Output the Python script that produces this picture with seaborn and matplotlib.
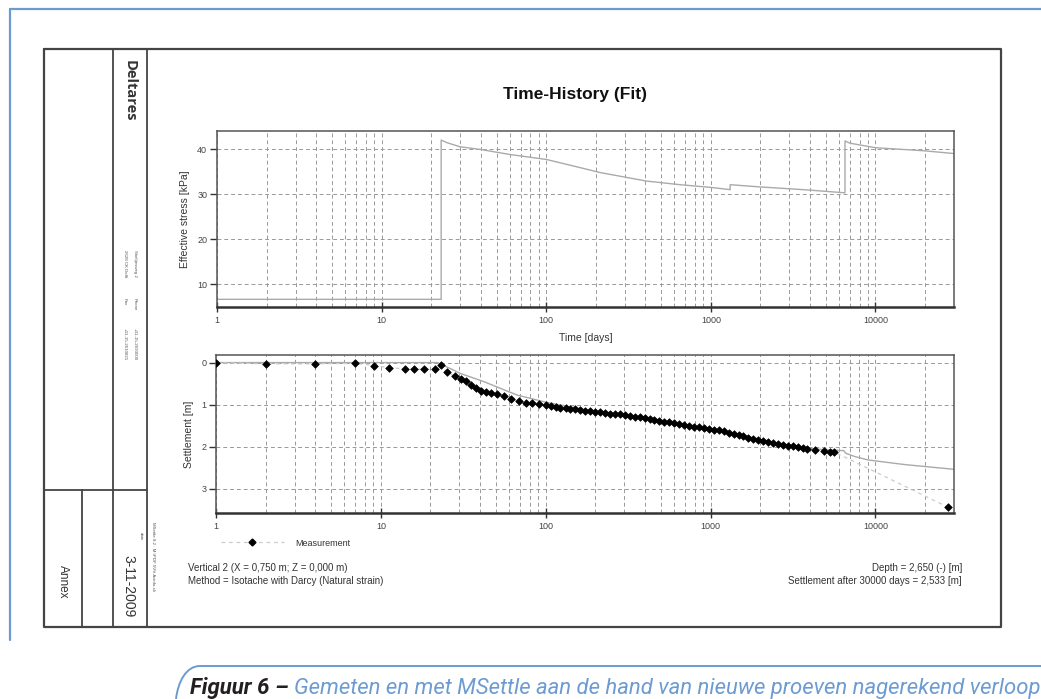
import matplotlib
matplotlib.use('agg')
import matplotlib.pyplot as plt
from matplotlib.lines import Line2D
from matplotlib.path import Path
from matplotlib.patches import PathPatch
from matplotlib.ticker import FixedLocator, FixedFormatter, LogLocator, NullFormatter
import pandas as pd
import seaborn as sns

sns.set_theme(style='white')
plt.rcParams['font.family'] = ['Liberation Sans', 'DejaVu Sans']

W, H = 1041, 699

# --- data ---
time_ticks = [1, 10, 100, 1000, 10000]
time_tick_labels = ['1', '10', '100', '1000', '10000']
stress_ticks = [10, 20, 30, 40]
settl_ticks = [0, 1, 2, 3]

# effective stress (fit), vertical jumps are repeated times
stress_time = [1, 23, 23, 25, 30, 40, 60, 100, 160, 212, 407, 650, 1000, 1310, 1310,
               2000, 3000, 4000, 6530, 6530, 7000, 10000, 20000, 30000]
stress_kpa = [6.7, 6.7, 42.0, 41.4, 40.5, 39.9, 38.8, 37.7, 35.9, 34.8, 32.9, 32.1, 31.5, 31.0, 32.1,
              31.6, 31.2, 30.9, 30.3, 41.8, 41.3, 40.3, 39.6, 39.0]

# settlement (fit)
fit_time = [1, 22, 23, 25, 27, 30, 42, 67, 100, 164, 260, 414, 659, 1000, 1323, 1670, 2010,
            2655, 3855, 5000, 6430, 6600, 7500, 9000, 15000, 30000]
fit_settl = [0, 0, 0.03, 0.1, 0.16, 0.25, 0.45, 0.77, 0.94, 1.1, 1.2, 1.31, 1.45, 1.56, 1.65,
             1.75, 1.83, 1.93, 2.03, 2.07, 2.09, 2.15, 2.23, 2.31, 2.42, 2.533]

# settlement (measurement)
meas_time = [1, 2, 4, 7, 9.1, 11.2, 14.1, 16, 18.2, 21.2, 23.2, 25.2, 28, 30.7, 33, 35.3, 37.9,
             40.6, 43.5, 46.7, 51, 56, 61.6, 69, 76, 83, 91.5, 100,
             107, 115, 123, 132, 141, 151, 162, 174, 186, 200, 214, 229, 245, 263, 282, 302,
             324, 347, 372, 398, 427, 457, 490, 525, 562, 603, 646, 692, 741, 794, 851, 912,
             977, 1047, 1122, 1202, 1288, 1380, 1479, 1585, 1698, 1820, 1950, 2089, 2239,
             2399, 2570, 2754, 2951, 3162, 3388, 3630, 3855,
             4330, 4860, 5330, 5620, 27500]
meas_settl = [0, 0.03, 0.03, 0.02, 0.07, 0.12, 0.15, 0.16, 0.16, 0.16, 0.06, 0.23, 0.32, 0.39,
              0.44, 0.53, 0.61, 0.67, 0.70, 0.73, 0.75, 0.79, 0.87, 0.91, 0.95, 0.96, 0.99, 1.01,
              1.03, 1.05, 1.07, 1.08, 1.10, 1.11, 1.13, 1.14, 1.16, 1.17, 1.18, 1.19, 1.21, 1.22,
              1.23, 1.25, 1.27, 1.29, 1.30, 1.32, 1.34, 1.36, 1.38, 1.40, 1.42, 1.44, 1.46, 1.48,
              1.50, 1.52, 1.54, 1.56, 1.57, 1.59, 1.61, 1.63, 1.66, 1.69, 1.72, 1.75, 1.78, 1.81,
              1.83, 1.86, 1.88, 1.90, 1.93, 1.95, 1.97, 1.99, 2.01, 2.03, 2.05,
              2.08, 2.10, 2.12, 2.12, 3.43]

stress = pd.DataFrame({'t': stress_time, 'kpa': stress_kpa})
fit = pd.DataFrame({'t': fit_time, 's': fit_settl})
meas = pd.DataFrame({'t': meas_time, 's': meas_settl})


def rect(x0, y0, x1, y1):
    return [x0 / W, 1 - y1 / H, (x1 - x0) / W, (y1 - y0) / H]


fig = plt.figure(figsize=(W / 100, H / 100), dpi=100)
fig.patch.set_facecolor('white')

# page / drawing frame in pixel coordinates
bg = fig.add_axes([0, 0, 1, 1], zorder=0)
bg.set_xlim(0, W)
bg.set_ylim(H, 0)
bg.axis('off')

blue = '#6c9bd2'
frame = '#444444'
bg.plot([10, W], [9, 9], color=blue, lw=1.6)
bg.plot([10, 10], [9, 640], color=blue, lw=1.6)

bg.plot([44, 1001, 1001, 44, 44], [49, 49, 627, 627, 49], color=frame, lw=1.6)
bg.plot([113, 113], [49, 627], color=frame, lw=1.3)
bg.plot([147, 147], [49, 627], color=frame, lw=1.3)
bg.plot([44, 147], [490, 490], color=frame, lw=1.3)
bg.plot([82, 82], [490, 627], color=frame, lw=1.3)

side = '#555555'
bg.text(130, 60, 'Deltares', rotation=-90, ha='center', va='top', fontsize=10.5,
        fontweight='bold', color='#333333', family=['Open Sans', 'DejaVu Sans'])
bg.text(135, 250, 'Stieltjesweg 2', rotation=-90, ha='center', va='top', fontsize=3.2, color=side)
bg.text(125, 250, '2628 CK Delft', rotation=-90, ha='center', va='top', fontsize=3.2, color=side)
bg.text(135, 298, 'Phone', rotation=-90, ha='center', va='top', fontsize=3.2, color=side)
bg.text(125, 298, 'Fax', rotation=-90, ha='center', va='top', fontsize=3.2, color=side)
bg.text(135, 328, '+31-15-2693500', rotation=-90, ha='center', va='top', fontsize=3.2, color=side)
bg.text(125, 328, '+31-15-2610821', rotation=-90, ha='center', va='top', fontsize=3.2, color=side)
bg.text(141, 532, 'date', rotation=-90, ha='center', va='top', fontsize=3.2, color=side)
bg.text(128, 555, '3-11-2009', rotation=-90, ha='center', va='top', fontsize=10, color='#333333')
bg.text(63, 565, 'Annex', rotation=-90, ha='center', va='top', fontsize=8.5, color='#333333')
bg.text(153, 522, 'MSettle 8.2 : M:\\PDF 5\\Fit Acinfo.sli', rotation=-90, ha='center', va='top',
        fontsize=3.2, color=side)

bg.text(575, 95, 'Time-History (Fit)', ha='center', va='center', fontsize=12.5,
        fontweight='bold', color='#111111')

txt = '#333333'
bg.text(188, 568, 'Vertical 2 (X = 0,750 m; Z = 0,000 m)', ha='left', va='center', fontsize=7, color=txt)
bg.text(188, 581, 'Method = Isotache with Darcy (Natural strain)', ha='left', va='center', fontsize=7, color=txt)
bg.text(962, 568, 'Depth = 2,650 (-) [m]', ha='right', va='center', fontsize=7, color=txt)
bg.text(962, 581, 'Settlement after 30000 days = 2,533 [m]', ha='right', va='center', fontsize=7, color=txt)

# caption box and text
cap = Path([(W, 666), (200, 666), (186, 666), (178, 682), (176, 699)],
           [Path.MOVETO, Path.LINETO, Path.CURVE4, Path.CURVE4, Path.CURVE4])
bg.add_patch(PathPatch(cap, fill=False, edgecolor=blue, lw=1.4))
cap_font = ['Liberation Sans Narrow', 'Roboto', 'DejaVu Sans']
t1 = bg.text(190, 694, 'Figuur 6 – ', ha='left', va='baseline', fontsize=15.9, fontweight='bold',
             fontstyle='italic', color='#231f20', family=cap_font)
bg.annotate('Gemeten en met MSettle aan de hand van nieuwe proeven nagerekend verloop',
            xy=(1, 0), xycoords=t1, ha='left', va='bottom', fontsize=15.9, fontstyle='italic',
            color=blue, family=cap_font)

grid_kw = dict(ls=(0, (4, 3)), color='#999999', lw=0.7)


def style_axes(ax):
    ax.set_xscale('log')
    ax.set_xlim(1, 30000)
    ax.xaxis.set_major_locator(FixedLocator(time_ticks))
    ax.xaxis.set_major_formatter(FixedFormatter(time_tick_labels))
    ax.xaxis.set_minor_locator(LogLocator(base=10, subs=range(2, 10), numticks=20))
    ax.xaxis.set_minor_formatter(NullFormatter())
    ax.grid(True, which='both', axis='x', **grid_kw)
    ax.grid(True, which='major', axis='y', **grid_kw)
    ax.tick_params(axis='x', which='major', direction='inout', length=7, width=1, color='#333333',
                   labelsize=6.5, labelcolor='#444444', pad=3, bottom=True)
    ax.tick_params(axis='x', which='minor', length=0)
    ax.tick_params(axis='y', which='major', direction='out', length=5, width=1, color='#333333',
                   labelsize=6.5, labelcolor='#444444', pad=2, left=True)
    for s in ax.spines.values():
        s.set_color('#555555')
        s.set_linewidth(1.1)
    ax.spines['bottom'].set_linewidth(1.8)
    ax.spines['bottom'].set_color('#333333')
    ax.patch.set_alpha(0)


# top: effective stress
ax1 = fig.add_axes(rect(217, 131, 954, 307), zorder=2)
sns.lineplot(data=stress, x='t', y='kpa', ax=ax1, estimator=None, sort=False,
             color='#aaaaaa', lw=1.0)
style_axes(ax1)
ax1.set_ylim(5, 44)
ax1.yaxis.set_major_locator(FixedLocator(stress_ticks))
ax1.set_xlabel('Time [days]', fontsize=7.5, color='#333333', labelpad=6)
ax1.set_ylabel('Effective stress [kPa]', fontsize=7.5, color='#333333', labelpad=5)

# bottom: settlement
ax2 = fig.add_axes(rect(216, 355, 954, 513), zorder=2)
sns.lineplot(data=fit, x='t', y='s', ax=ax2, estimator=None, sort=False,
             color='#aaaaaa', lw=1.0)
sns.lineplot(data=meas, x='t', y='s', ax=ax2, estimator=None, sort=False,
             color='#cccccc', lw=0.9, ls=(0, (3, 3)))
sns.scatterplot(data=meas, x='t', y='s', ax=ax2, marker='D', s=15, color='black',
                edgecolor='black', linewidth=0.5, zorder=5)
style_axes(ax2)
ax2.set_ylim(3.57, -0.18)
ax2.yaxis.set_major_locator(FixedLocator(settl_ticks))
ax2.set_xlabel('')
ax2.set_ylabel('Settlement [m]', fontsize=7.5, color='#333333', labelpad=5)

handle = Line2D([], [], color='#cccccc', ls=(0, (3, 3)), lw=0.9, marker='D', markersize=3.5,
                markerfacecolor='black', markeredgecolor='black')
ax2.legend(handles=[handle], labels=['Measurement'], loc='center left', frameon=False,
           bbox_to_anchor=(216 / W, 1 - 543 / H), bbox_transform=fig.transFigure,
           fontsize=6.5, handlelength=7, handletextpad=1.3, numpoints=1, borderpad=0,
           labelcolor='#333333')

fig.savefig('out.png', dpi=100)
